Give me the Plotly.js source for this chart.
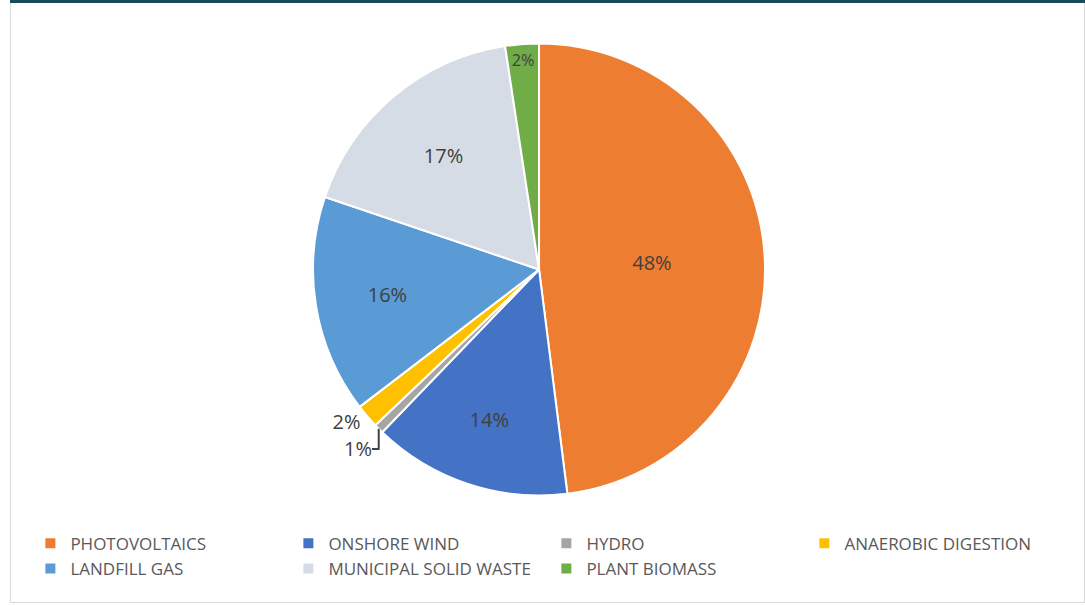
<!DOCTYPE html>
<html>
<head>
<meta charset="utf-8">
<script src="https://cdn.plot.ly/plotly-3.0.1.min.js"></script>
<style>
  html, body { margin: 0; padding: 0; background: #ffffff; }
  #frame { position: absolute; left: 10px; top: 0; width: 1073px; height: 602px;
           border-left: 1px solid #d9d9d9; border-right: 1px solid #d9d9d9; border-bottom: 1px solid #d9d9d9; }
  #topbar { position: absolute; left: 10px; top: 0; width: 1075px; height: 3px; background: #1b4a5c; z-index: 5; }
  #chart { position: absolute; left: 0; top: 0; width: 1085px; height: 605px; }
</style>
</head>
<body>
<div id="frame"></div>
<div id="chart"></div>
<div id="topbar"></div>
<script>
const categories = ["PHOTOVOLTAICS", "ONSHORE WIND", "HYDRO", "ANAEROBIC DIGESTION",
                    "LANDFILL GAS", "MUNICIPAL SOLID WASTE", "PLANT BIOMASS"];
const shares = [48.0, 14.2, 0.7, 1.7, 15.6, 17.4, 2.4];
const colors = ["#ED7D31", "#4472C4", "#A5A5A5", "#FFC000", "#5B9BD5", "#D6DCE5", "#70AD47"];
const textPositions = ["inside", "inside", "outside", "outside", "inside", "inside", "inside"];

const trace = {
  type: "pie",
  labels: categories,
  values: shares,
  sort: false,
  direction: "clockwise",
  rotation: 0,
  marker: { colors: colors, line: { color: "#ffffff", width: 2 } },
  texttemplate: "%{percent:.0%}",
  textinfo: "percent",
  textposition: textPositions,
  insidetextorientation: "horizontal",
  textfont: { family: "Open Sans, sans-serif", size: 20, color: "#404040" },
  insidetextfont: { family: "Open Sans, sans-serif", size: 20, color: "#404040" },
  outsidetextfont: { family: "Open Sans, sans-serif", size: 20, color: "#404040" },
  hoverinfo: "label+percent",
  domain: { x: [0.2885, 0.7051], y: [0.1802, 0.9289] }
};

const layout = {
  width: 1085,
  height: 605,
  margin: { l: 0, r: 0, t: 0, b: 0 },
  paper_bgcolor: "rgba(0,0,0,0)",
  plot_bgcolor: "rgba(0,0,0,0)",
  showlegend: true,
  legend: {
    orientation: "h",
    x: 0.028, xanchor: "left",
    y: 0.131, yanchor: "top",
    entrywidth: 213,
    entrywidthmode: "pixels",
    traceorder: "normal",
    font: { family: "Open Sans, sans-serif", size: 17, color: "#595959" }
  }
};

Plotly.newPlot("chart", [trace], layout, { displayModeBar: false, staticPlot: true });
</script>
</body>
</html>
